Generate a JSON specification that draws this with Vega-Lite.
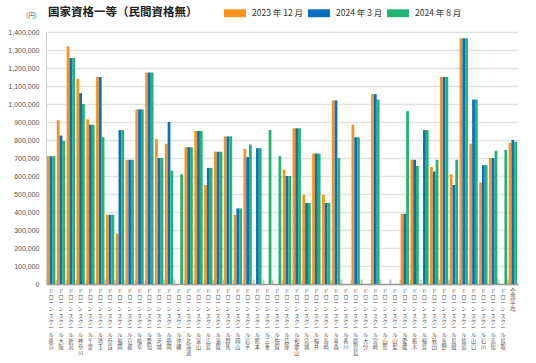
{
  "$schema": "https://vega.github.io/schema/vega-lite/v6.json",
  "width": 472,
  "height": 252,
  "autosize": {"type": "none"},
  "padding": {"left": 46, "top": 32, "right": 18, "bottom": 79},
  "background": "white",
  "title": {"text": "国家資格一等（民間資格無）", "anchor": "start", "frame": "group", "fontSize": 11.5, "fontWeight": "bold", "font": "Noto Sans CJK JP", "color": "#222", "dx": 2, "offset": 0, "baseline": "bottom", "dy": 27},
  "config": {"view": {"stroke": null}, "font": "Noto Sans CJK JP"},
  "data": {"values": [
    {"school": "ドローンスクール東京", "period": "2023 年 12 月", "price": 710000},
    {"school": "ドローンスクール東京", "period": "2024 年 3 月", "price": 710000},
    {"school": "ドローンスクール東京", "period": "2024 年 8 月", "price": 710000},
    {"school": "ドローンスクール大阪", "period": "2023 年 12 月", "price": 910000},
    {"school": "ドローンスクール大阪", "period": "2024 年 3 月", "price": 825000},
    {"school": "ドローンスクール大阪", "period": "2024 年 8 月", "price": 795000},
    {"school": "ドローンスクール新潟", "period": "2023 年 12 月", "price": 1320000},
    {"school": "ドローンスクール新潟", "period": "2024 年 3 月", "price": 1255000},
    {"school": "ドローンスクール新潟", "period": "2024 年 8 月", "price": 1255000},
    {"school": "ドローンスクール神奈川", "period": "2023 年 12 月", "price": 1140000},
    {"school": "ドローンスクール神奈川", "period": "2024 年 3 月", "price": 1060000},
    {"school": "ドローンスクール神奈川", "period": "2024 年 8 月", "price": 1000000},
    {"school": "ドローンスクール千葉", "period": "2023 年 12 月", "price": 915000},
    {"school": "ドローンスクール千葉", "period": "2024 年 3 月", "price": 885000},
    {"school": "ドローンスクール千葉", "period": "2024 年 8 月", "price": 885000},
    {"school": "ドローンスクール埼玉", "period": "2023 年 12 月", "price": 1150000},
    {"school": "ドローンスクール埼玉", "period": "2024 年 3 月", "price": 1150000},
    {"school": "ドローンスクール埼玉", "period": "2024 年 8 月", "price": 815000},
    {"school": "ドローンスクール奈良", "period": "2023 年 12 月", "price": 385000},
    {"school": "ドローンスクール奈良", "period": "2024 年 3 月", "price": 385000},
    {"school": "ドローンスクール奈良", "period": "2024 年 8 月", "price": 385000},
    {"school": "ドローンスクール福岡", "period": "2023 年 12 月", "price": 280000},
    {"school": "ドローンスクール福岡", "period": "2024 年 3 月", "price": 855000},
    {"school": "ドローンスクール福岡", "period": "2024 年 8 月", "price": 855000},
    {"school": "ドローンスクール京都", "period": "2023 年 12 月", "price": 690000},
    {"school": "ドローンスクール京都", "period": "2024 年 3 月", "price": 690000},
    {"school": "ドローンスクール京都", "period": "2024 年 8 月", "price": 690000},
    {"school": "ドローンスクール岐阜", "period": "2023 年 12 月", "price": 970000},
    {"school": "ドローンスクール岐阜", "period": "2024 年 3 月", "price": 970000},
    {"school": "ドローンスクール岐阜", "period": "2024 年 8 月", "price": 970000},
    {"school": "ドローンスクール愛知", "period": "2023 年 12 月", "price": 1175000},
    {"school": "ドローンスクール愛知", "period": "2024 年 3 月", "price": 1175000},
    {"school": "ドローンスクール愛知", "period": "2024 年 8 月", "price": 1175000},
    {"school": "ドローンスクール茨城", "period": "2023 年 12 月", "price": 805000},
    {"school": "ドローンスクール茨城", "period": "2024 年 3 月", "price": 700000},
    {"school": "ドローンスクール茨城", "period": "2024 年 8 月", "price": 700000},
    {"school": "ドローンスクール静岡", "period": "2023 年 12 月", "price": 780000},
    {"school": "ドローンスクール静岡", "period": "2024 年 3 月", "price": 900000},
    {"school": "ドローンスクール静岡", "period": "2024 年 8 月", "price": 630000},
    {"school": "ドローンスクール沖縄", "period": "2024 年 8 月", "price": 610000},
    {"school": "ドローンスクール北海道", "period": "2023 年 12 月", "price": 760000},
    {"school": "ドローンスクール北海道", "period": "2024 年 3 月", "price": 760000},
    {"school": "ドローンスクール北海道", "period": "2024 年 8 月", "price": 760000},
    {"school": "ドローンスクール富山", "period": "2023 年 12 月", "price": 850000},
    {"school": "ドローンスクール富山", "period": "2024 年 3 月", "price": 850000},
    {"school": "ドローンスクール富山", "period": "2024 年 8 月", "price": 850000},
    {"school": "ドローンスクール広島", "period": "2023 年 12 月", "price": 550000},
    {"school": "ドローンスクール広島", "period": "2024 年 3 月", "price": 645000},
    {"school": "ドローンスクール広島", "period": "2024 年 8 月", "price": 645000},
    {"school": "ドローンスクール滋賀", "period": "2023 年 12 月", "price": 735000},
    {"school": "ドローンスクール滋賀", "period": "2024 年 3 月", "price": 735000},
    {"school": "ドローンスクール滋賀", "period": "2024 年 8 月", "price": 735000},
    {"school": "ドローンスクール群馬", "period": "2023 年 12 月", "price": 820000},
    {"school": "ドローンスクール群馬", "period": "2024 年 3 月", "price": 820000},
    {"school": "ドローンスクール群馬", "period": "2024 年 8 月", "price": 820000},
    {"school": "ドローンスクール岡山", "period": "2023 年 12 月", "price": 385000},
    {"school": "ドローンスクール岡山", "period": "2024 年 3 月", "price": 420000},
    {"school": "ドローンスクール岡山", "period": "2024 年 8 月", "price": 420000},
    {"school": "ドローンスクール岩手", "period": "2023 年 12 月", "price": 750000},
    {"school": "ドローンスクール岩手", "period": "2024 年 3 月", "price": 705000},
    {"school": "ドローンスクール岩手", "period": "2024 年 8 月", "price": 775000},
    {"school": "ドローンスクール熊本", "period": "2024 年 3 月", "price": 755000},
    {"school": "ドローンスクール熊本", "period": "2024 年 8 月", "price": 755000},
    {"school": "ドローンスクール三重", "period": "2024 年 8 月", "price": 855000},
    {"school": "ドローンスクール佐賀", "period": "2024 年 8 月", "price": 710000},
    {"school": "ドローンスクール兵庫", "period": "2023 年 12 月", "price": 635000},
    {"school": "ドローンスクール兵庫", "period": "2024 年 3 月", "price": 600000},
    {"school": "ドローンスクール兵庫", "period": "2024 年 8 月", "price": 600000},
    {"school": "ドローンスクール和歌山", "period": "2023 年 12 月", "price": 865000},
    {"school": "ドローンスクール和歌山", "period": "2024 年 3 月", "price": 865000},
    {"school": "ドローンスクール和歌山", "period": "2024 年 8 月", "price": 865000},
    {"school": "ドローンスクール宮城", "period": "2023 年 12 月", "price": 495000},
    {"school": "ドローンスクール宮城", "period": "2024 年 3 月", "price": 450000},
    {"school": "ドローンスクール宮城", "period": "2024 年 8 月", "price": 450000},
    {"school": "ドローンスクール福井", "period": "2023 年 12 月", "price": 725000},
    {"school": "ドローンスクール福井", "period": "2024 年 3 月", "price": 725000},
    {"school": "ドローンスクール福井", "period": "2024 年 8 月", "price": 725000},
    {"school": "ドローンスクール長崎", "period": "2023 年 12 月", "price": 495000},
    {"school": "ドローンスクール長崎", "period": "2024 年 3 月", "price": 450000},
    {"school": "ドローンスクール長崎", "period": "2024 年 8 月", "price": 450000},
    {"school": "ドローンスクール青森", "period": "2023 年 12 月", "price": 1020000},
    {"school": "ドローンスクール青森", "period": "2024 年 3 月", "price": 1020000},
    {"school": "ドローンスクール青森", "period": "2024 年 8 月", "price": 700000},
    {"school": "ドローンスクール鹿児島", "period": "2023 年 12 月", "price": 885000},
    {"school": "ドローンスクール鹿児島", "period": "2024 年 3 月", "price": 815000},
    {"school": "ドローンスクール鹿児島", "period": "2024 年 8 月", "price": 815000},
    {"school": "ドローンスクール宮崎", "period": "2023 年 12 月", "price": 1055000},
    {"school": "ドローンスクール宮崎", "period": "2024 年 3 月", "price": 1055000},
    {"school": "ドローンスクール宮崎", "period": "2024 年 8 月", "price": 1025000},
    {"school": "ドローンスクール愛媛", "period": "2023 年 12 月", "price": 390000},
    {"school": "ドローンスクール愛媛", "period": "2024 年 3 月", "price": 390000},
    {"school": "ドローンスクール愛媛", "period": "2024 年 8 月", "price": 960000},
    {"school": "ドローンスクール栃木", "period": "2023 年 12 月", "price": 690000},
    {"school": "ドローンスクール栃木", "period": "2024 年 3 月", "price": 690000},
    {"school": "ドローンスクール栃木", "period": "2024 年 8 月", "price": 655000},
    {"school": "ドローンスクール福島", "period": "2024 年 3 月", "price": 855000},
    {"school": "ドローンスクール福島", "period": "2024 年 8 月", "price": 855000},
    {"school": "ドローンスクール秋田", "period": "2023 年 12 月", "price": 650000},
    {"school": "ドローンスクール秋田", "period": "2024 年 3 月", "price": 625000},
    {"school": "ドローンスクール秋田", "period": "2024 年 8 月", "price": 690000},
    {"school": "ドローンスクール長野", "period": "2023 年 12 月", "price": 1150000},
    {"school": "ドローンスクール長野", "period": "2024 年 3 月", "price": 1150000},
    {"school": "ドローンスクール長野", "period": "2024 年 8 月", "price": 1150000},
    {"school": "ドローンスクール島根", "period": "2023 年 12 月", "price": 610000},
    {"school": "ドローンスクール島根", "period": "2024 年 3 月", "price": 550000},
    {"school": "ドローンスクール島根", "period": "2024 年 8 月", "price": 690000},
    {"school": "ドローンスクール徳島", "period": "2023 年 12 月", "price": 1365000},
    {"school": "ドローンスクール徳島", "period": "2024 年 3 月", "price": 1365000},
    {"school": "ドローンスクール徳島", "period": "2024 年 8 月", "price": 1365000},
    {"school": "ドローンスクール山口", "period": "2023 年 12 月", "price": 780000},
    {"school": "ドローンスクール山口", "period": "2024 年 3 月", "price": 1025000},
    {"school": "ドローンスクール山口", "period": "2024 年 8 月", "price": 1025000},
    {"school": "ドローンスクール石川", "period": "2023 年 12 月", "price": 565000},
    {"school": "ドローンスクール石川", "period": "2024 年 3 月", "price": 660000},
    {"school": "ドローンスクール石川", "period": "2024 年 8 月", "price": 660000},
    {"school": "ドローンスクール高知", "period": "2023 年 12 月", "price": 700000},
    {"school": "ドローンスクール高知", "period": "2024 年 3 月", "price": 700000},
    {"school": "ドローンスクール高知", "period": "2024 年 8 月", "price": 740000},
    {"school": "ドローンスクール鳥取", "period": "2024 年 8 月", "price": 745000},
    {"school": "全国平均", "period": "2023 年 12 月", "price": 785000},
    {"school": "全国平均", "period": "2024 年 3 月", "price": 800000},
    {"school": "全国平均", "period": "2024 年 8 月", "price": 790000}
  ]},
  "mark": {"type": "bar"},
  "encoding": {
    "x": {
      "field": "school", "type": "nominal",
      "scale": {"domain": ["ドローンスクール東京","ドローンスクール大阪","ドローンスクール新潟","ドローンスクール神奈川","ドローンスクール千葉","ドローンスクール埼玉","ドローンスクール奈良","ドローンスクール福岡","ドローンスクール京都","ドローンスクール岐阜","ドローンスクール愛知","ドローンスクール茨城","ドローンスクール静岡","ドローンスクール沖縄","ドローンスクール北海道","ドローンスクール富山","ドローンスクール広島","ドローンスクール滋賀","ドローンスクール群馬","ドローンスクール岡山","ドローンスクール岩手","ドローンスクール熊本","ドローンスクール三重","ドローンスクール佐賀","ドローンスクール兵庫","ドローンスクール和歌山","ドローンスクール宮城","ドローンスクール福井","ドローンスクール長崎","ドローンスクール青森","ドローンスクール香川","ドローンスクール鹿児島","ドローンスクール大分","ドローンスクール宮崎","ドローンスクール山形","ドローンスクール山梨","ドローンスクール愛媛","ドローンスクール栃木","ドローンスクール福島","ドローンスクール秋田","ドローンスクール長野","ドローンスクール島根","ドローンスクール徳島","ドローンスクール山口","ドローンスクール石川","ドローンスクール高知","ドローンスクール鳥取","全国平均"], "paddingInner": 0.15, "paddingOuter": 0.1},
      "axis": {"title": null, "labelAngle": 0, "labelExpr": "split(datum.label, '')", "labelFontSize": 5.2, "labelLineHeight": 6.3, "labelBaseline": "top", "labelAlign": "center", "labelPadding": 9, "labelColor": "#555555", "labelOverlap": false, "labelLimit": 0, "ticks": true, "tickSize": -5, "tickColor": "#c4c4c4", "tickWidth": 2, "bandPosition": 0, "domainColor": "#9a9a9a", "domainWidth": 1.5, "grid": false}
    },
    "xOffset": {"field": "period", "type": "nominal", "scale": {"domain": ["2023 年 12 月", "2024 年 3 月", "2024 年 8 月"]}},
    "y": {
      "field": "price", "type": "quantitative",
      "scale": {"domain": [0, 1400000], "nice": false},
      "axis": {"title": "(円)", "titleAngle": 0, "titleX": -15, "titleY": -17, "titleAlign": "center", "titleBaseline": "middle", "titleFontSize": 6.5, "titleFontWeight": "normal", "titleColor": "#555555", "values": [0,100000,200000,300000,400000,500000,600000,700000,800000,900000,1000000,1100000,1200000,1300000,1400000], "format": ",d", "labelFont": "Liberation Sans", "labelFontSize": 7, "labelColor": "#555555", "labelPadding": 7, "ticks": false, "grid": true, "gridColor": "#e2e2e2", "gridWidth": 1.6, "domain": true, "domainColor": "#d0d0d0"}
    },
    "color": {
      "field": "period", "type": "nominal",
      "scale": {"domain": ["2023 年 12 月", "2024 年 3 月", "2024 年 8 月"], "range": ["#F7931E", "#0B6FBE", "#22B473"]},
      "legend": {"orient": "none", "legendX": 178, "legendY": -30, "direction": "horizontal", "title": null, "symbolType": "M-1,-0.36H1V0.36H-1Z", "symbolSize": 484, "symbolStrokeWidth": 0, "symbolOpacity": 1, "labelFontSize": 8.5, "labelOffset": 6, "columnPadding": 4, "labelColor": "#333333"}
    }
  }
}
